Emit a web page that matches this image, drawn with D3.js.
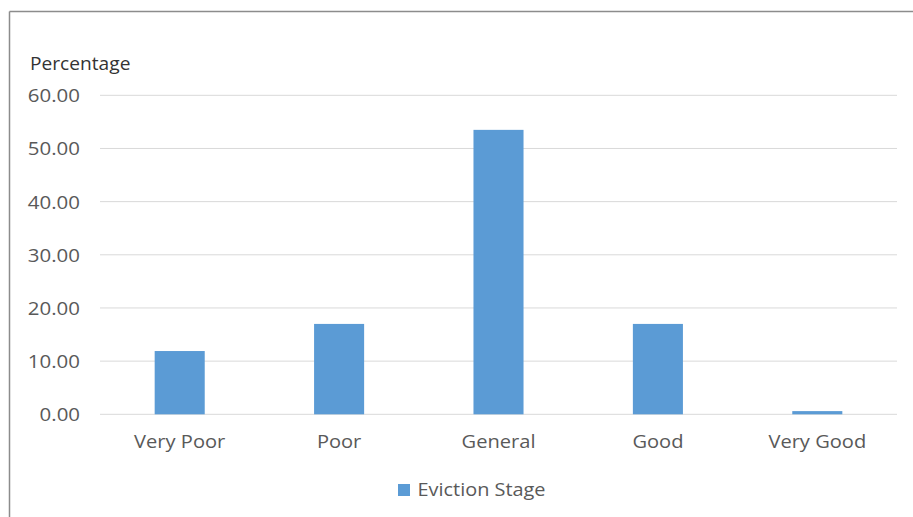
<!DOCTYPE html>
<html>
<head>
<meta charset="utf-8">
<script src="https://cdn.jsdelivr.net/npm/d3@7"></script>
<style>
  html, body { margin: 0; padding: 0; background: #fff; }
  svg { display: block; }
  text { font-family: "Open Sans", Lato, sans-serif; }
</style>
</head>
<body>
<svg id="chart" width="913" height="517"></svg>
<script>
// Share of respondents per rating, eviction stage
const categories = ["Very Poor", "Poor", "General", "Good", "Very Good"];
const evictionStage = [11.9, 17.0, 53.5, 17.0, 0.6];
const yTicks = [0, 10, 20, 30, 40, 50, 60];
const seriesName = "Eviction Stage";
const yTitle = "Percentage";

const FONT = "'Open Sans', Lato, sans-serif";
const svg = d3.select("#chart");
const W = 913, H = 517;
const plot = { left: 100, right: 897, top: 95.3, bottom: 414.3 };

// Widen glyphs horizontally by factor k (text set in a slightly wide face)
function widen(sel, k) {
  sel.each(function () {
    const len = this.getComputedTextLength();
    d3.select(this).attr("textLength", len * k).attr("lengthAdjust", "spacingAndGlyphs");
  });
}

// Frame: top and left edges only
svg.append("line").attr("x1", 9.5).attr("x2", W).attr("y1", 11.5).attr("y2", 11.5)
  .attr("stroke", "#8c8c8c").attr("stroke-width", 1.5);
svg.append("line").attr("x1", 9.5).attr("x2", 9.5).attr("y1", 11.5).attr("y2", H)
  .attr("stroke", "#8c8c8c").attr("stroke-width", 1.5);

const x = d3.scaleBand().domain(categories)
  .range([plot.left, plot.right]).paddingInner(0.686).paddingOuter(0.343);
const y = d3.scaleLinear().domain([0, 60]).range([plot.bottom, plot.top]);

// Horizontal gridlines
svg.append("g").selectAll("line").data(yTicks).join("line")
  .attr("x1", plot.left).attr("x2", plot.right)
  .attr("y1", d => y(d)).attr("y2", d => y(d))
  .attr("stroke", "#d9d9d9").attr("stroke-width", 1);

// Y axis labels
const yAxis = d3.axisLeft(y).tickValues(yTicks).tickFormat(d3.format(".2f")).tickSize(0).tickPadding(0);
svg.append("g").attr("transform", "translate(80,0)").call(yAxis)
  .call(g => g.select(".domain").remove())
  .call(g => g.selectAll("text").attr("fill", "#595959").attr("font-size", 17.8)
    .attr("font-family", FONT).attr("dy", "0.36em").call(widen, 1.15));

// Bars
svg.append("g").selectAll("rect").data(evictionStage).join("rect")
  .attr("x", (d, i) => x(categories[i]))
  .attr("width", x.bandwidth())
  .attr("y", d => y(d))
  .attr("height", d => y(0) - y(d))
  .attr("fill", "#5b9bd5");

// Category labels
const xAxis = d3.axisBottom(x).tickSize(0).tickPadding(0);
svg.append("g").attr("transform", `translate(0,${plot.bottom})`).call(xAxis)
  .call(g => g.select(".domain").remove())
  .call(g => g.selectAll("text").attr("fill", "#595959").attr("font-size", 18.6)
    .attr("font-family", FONT).attr("dy", null).attr("y", 34).call(widen, 1.08));

// Axis title
svg.append("text").attr("x", 30).attr("y", 70).text(yTitle)
  .attr("fill", "#333333").attr("font-size", 18.6).call(widen, 1.03);

// Legend
const leg = svg.append("g").attr("transform", "translate(398,484)");
leg.append("rect").attr("width", 12).attr("height", 12).attr("fill", "#5b9bd5");
leg.append("text").attr("x", 19.5).attr("y", 12).text(seriesName)
  .attr("fill", "#595959").attr("font-size", 18.6).call(widen, 1.07);
</script>
</body>
</html>
